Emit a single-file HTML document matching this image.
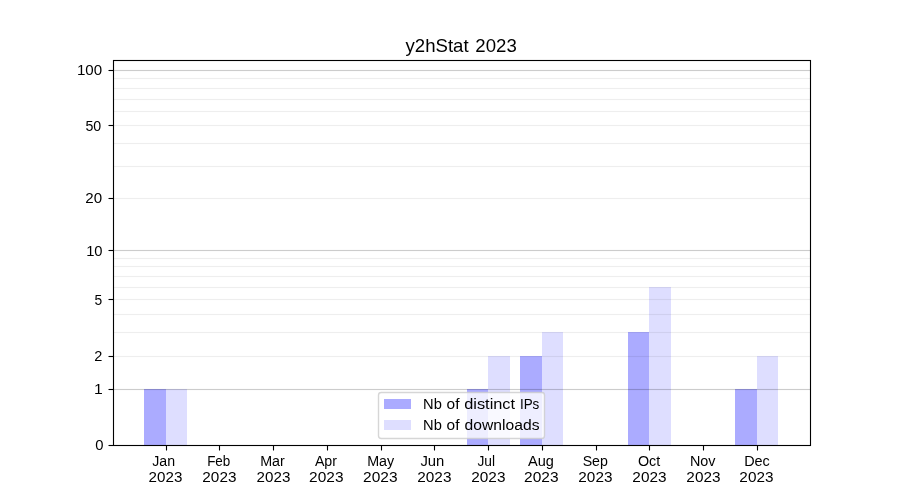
<!DOCTYPE html>
<html lang="en"><head><meta charset="utf-8"><title>y2hStat 2023</title>
<style>
html,body{margin:0;padding:0;background:#fff;}
body{width:900px;height:500px;overflow:hidden;}
svg{display:block;will-change:transform;}
text{font-family:"Liberation Sans",sans-serif;fill:#000;fill-opacity:1;}
.t10{font-size:14.7px;}
.t12{font-size:17.9px;}
.ln{stroke:#000;stroke-width:1.111;fill:none;}
.bd{fill:#0000ff;fill-opacity:0.33;shape-rendering:crispEdges;}
.bl{fill:#0000ff;fill-opacity:0.13;shape-rendering:crispEdges;}
</style></head><body>
<svg width="900" height="500" viewBox="0 0 900 500" role="img" aria-label="y2hStat 2023 bar chart">
<rect x="0" y="0" width="900" height="500" fill="#ffffff"/>
<!-- bars -->
<g class="bd">
<rect x="144" y="389" width="22" height="56"/>
<rect x="467" y="389" width="21" height="56"/>
<rect x="520" y="356" width="22" height="89"/>
<rect x="628" y="332" width="21" height="113"/>
<rect x="735" y="389" width="22" height="56"/>
</g>
<g class="bl">
<rect x="166" y="389" width="21" height="56"/>
<rect x="488" y="356" width="22" height="89"/>
<rect x="542" y="332" width="21" height="113"/>
<rect x="649" y="287" width="22" height="158"/>
<rect x="757" y="356" width="21" height="89"/>
</g>
<!-- grid -->
<g shape-rendering="crispEdges" fill="#000">
<rect x="114" y="70" width="696" height="1" fill-opacity="0.2"/>
<rect x="114" y="78" width="696" height="1" fill-opacity="0.0667"/>
<rect x="114" y="88" width="696" height="1" fill-opacity="0.0667"/>
<rect x="114" y="99" width="696" height="1" fill-opacity="0.0667"/>
<rect x="114" y="111" width="696" height="1" fill-opacity="0.0667"/>
<rect x="114" y="125" width="696" height="1" fill-opacity="0.0667"/>
<rect x="114" y="143" width="696" height="1" fill-opacity="0.0667"/>
<rect x="114" y="166" width="696" height="1" fill-opacity="0.0667"/>
<rect x="114" y="198" width="696" height="1" fill-opacity="0.0667"/>
<rect x="114" y="250" width="696" height="1" fill-opacity="0.2"/>
<rect x="114" y="258" width="696" height="1" fill-opacity="0.0667"/>
<rect x="114" y="266" width="696" height="1" fill-opacity="0.0667"/>
<rect x="114" y="276" width="696" height="1" fill-opacity="0.0667"/>
<rect x="114" y="287" width="696" height="1" fill-opacity="0.0667"/>
<rect x="114" y="299" width="696" height="1" fill-opacity="0.0667"/>
<rect x="114" y="314" width="696" height="1" fill-opacity="0.0667"/>
<rect x="114" y="332" width="696" height="1" fill-opacity="0.0667"/>
<rect x="114" y="356" width="696" height="1" fill-opacity="0.0667"/>
<rect x="114" y="389" width="696" height="1" fill-opacity="0.2"/>
<path d="M114 69h696v1h-696zM114 71h696v1h-696zM114 249h696v1h-696zM114 251h696v1h-696zM114 388h696v1h-696zM114 390h696v1h-696z" fill-opacity="0.0118"/>
<path d="M114 77h696v1h-696zM114 79h696v1h-696zM114 87h696v1h-696zM114 89h696v1h-696zM114 98h696v1h-696zM114 100h696v1h-696zM114 110h696v1h-696zM114 112h696v1h-696zM114 124h696v1h-696zM114 126h696v1h-696zM114 142h696v1h-696zM114 144h696v1h-696zM114 165h696v1h-696zM114 167h696v1h-696zM114 197h696v1h-696zM114 199h696v1h-696zM114 257h696v1h-696zM114 259h696v1h-696zM114 265h696v1h-696zM114 267h696v1h-696zM114 275h696v1h-696zM114 277h696v1h-696zM114 286h696v1h-696zM114 288h696v1h-696zM114 298h696v1h-696zM114 300h696v1h-696zM114 313h696v1h-696zM114 315h696v1h-696zM114 331h696v1h-696zM114 333h696v1h-696zM114 355h696v1h-696zM114 357h696v1h-696z" fill-opacity="0.0040"/>
</g>
<!-- ticks -->
<g class="ln">
<line x1="108.5" y1="445.5" x2="113" y2="445.5"/>
<line x1="108.5" y1="389.5" x2="113" y2="389.5"/>
<line x1="108.5" y1="356.5" x2="113" y2="356.5"/>
<line x1="108.5" y1="299.5" x2="113" y2="299.5"/>
<line x1="108.5" y1="250.5" x2="113" y2="250.5"/>
<line x1="108.5" y1="198.5" x2="113" y2="198.5"/>
<line x1="108.5" y1="125.5" x2="113" y2="125.5"/>
<line x1="108.5" y1="70.5" x2="113" y2="70.5"/>
<line x1="166.5" y1="446" x2="166.5" y2="450.5"/>
<line x1="219.5" y1="446" x2="219.5" y2="450.5"/>
<line x1="273.5" y1="446" x2="273.5" y2="450.5"/>
<line x1="327.5" y1="446" x2="327.5" y2="450.5"/>
<line x1="381.5" y1="446" x2="381.5" y2="450.5"/>
<line x1="434.5" y1="446" x2="434.5" y2="450.5"/>
<line x1="488.5" y1="446" x2="488.5" y2="450.5"/>
<line x1="542.5" y1="446" x2="542.5" y2="450.5"/>
<line x1="596.5" y1="446" x2="596.5" y2="450.5"/>
<line x1="649.5" y1="446" x2="649.5" y2="450.5"/>
<line x1="703.5" y1="446" x2="703.5" y2="450.5"/>
<line x1="757.5" y1="446" x2="757.5" y2="450.5"/>
</g>
<!-- spines -->
<rect class="ln" x="113.5" y="60.5" width="697" height="385"/>
<!-- y tick labels -->
<g class="t10">
<text x="95.19" y="450.00" textLength="8.24" lengthAdjust="spacingAndGlyphs">0</text>
<text x="93.94" y="394.00" textLength="8.74" lengthAdjust="spacingAndGlyphs">1</text>
<text x="94.19" y="361.00" textLength="8.09" lengthAdjust="spacingAndGlyphs">2</text>
<text x="94.44" y="305.00" textLength="7.69" lengthAdjust="spacingAndGlyphs">5</text>
<text x="86.16" y="256.00" textLength="16.42" lengthAdjust="spacingAndGlyphs">10</text>
<text x="85.36" y="203.00" textLength="16.82" lengthAdjust="spacingAndGlyphs">20</text>
<text x="85.46" y="131.00" textLength="15.82" lengthAdjust="spacingAndGlyphs">50</text>
<text x="76.92" y="75.00" textLength="25.21" lengthAdjust="spacingAndGlyphs">100</text>
</g>
<!-- x tick labels -->
<g class="t10">
<text x="152.25" y="466.00" textLength="22.81" lengthAdjust="spacingAndGlyphs">Jan</text>
<text x="148.63" y="482.00" textLength="33.75" lengthAdjust="spacingAndGlyphs">2023</text>
<text x="207.16" y="466.00" textLength="23.15" lengthAdjust="spacingAndGlyphs">Feb</text>
<text x="202.36" y="482.00" textLength="34.05" lengthAdjust="spacingAndGlyphs">2023</text>
<text x="260.17" y="466.00" textLength="24.60" lengthAdjust="spacingAndGlyphs">Mar</text>
<text x="256.60" y="482.00" textLength="33.75" lengthAdjust="spacingAndGlyphs">2023</text>
<text x="314.89" y="466.00" textLength="22.13" lengthAdjust="spacingAndGlyphs">Apr</text>
<text x="309.13" y="482.00" textLength="34.35" lengthAdjust="spacingAndGlyphs">2023</text>
<text x="367.19" y="466.00" textLength="27.01" lengthAdjust="spacingAndGlyphs">May</text>
<text x="363.12" y="482.00" textLength="34.45" lengthAdjust="spacingAndGlyphs">2023</text>
<text x="420.43" y="466.00" textLength="23.90" lengthAdjust="spacingAndGlyphs">Jun</text>
<text x="417.30" y="482.00" textLength="34.15" lengthAdjust="spacingAndGlyphs">2023</text>
<text x="477.48" y="466.00" textLength="17.61" lengthAdjust="spacingAndGlyphs">Jul</text>
<text x="471.29" y="482.00" textLength="34.15" lengthAdjust="spacingAndGlyphs">2023</text>
<text x="528.04" y="466.00" textLength="25.87" lengthAdjust="spacingAndGlyphs">Aug</text>
<text x="524.08" y="482.00" textLength="34.45" lengthAdjust="spacingAndGlyphs">2023</text>
<text x="582.65" y="466.00" textLength="25.23" lengthAdjust="spacingAndGlyphs">Sep</text>
<text x="578.36" y="482.00" textLength="34.05" lengthAdjust="spacingAndGlyphs">2023</text>
<text x="637.96" y="466.00" textLength="22.31" lengthAdjust="spacingAndGlyphs">Oct</text>
<text x="632.35" y="482.00" textLength="34.15" lengthAdjust="spacingAndGlyphs">2023</text>
<text x="689.90" y="466.00" textLength="25.56" lengthAdjust="spacingAndGlyphs">Nov</text>
<text x="686.38" y="482.00" textLength="34.10" lengthAdjust="spacingAndGlyphs">2023</text>
<text x="744.15" y="466.00" textLength="25.63" lengthAdjust="spacingAndGlyphs">Dec</text>
<text x="739.37" y="482.00" textLength="34.10" lengthAdjust="spacingAndGlyphs">2023</text>
</g>
<!-- title -->
<text class="t12"><tspan x="405.55" y="51.50" textLength="63.09" lengthAdjust="spacingAndGlyphs">y2hStat</tspan> <tspan x="475.39" y="51.50" textLength="41.42" lengthAdjust="spacingAndGlyphs">2023</tspan></text>
<!-- legend -->
<rect x="378.5" y="392.5" width="166" height="46" rx="2.78" ry="2.78" fill="#ffffff" fill-opacity="0.8" stroke="#cccccc" stroke-opacity="0.8" stroke-width="1.389"/>
<rect x="384" y="399" width="27" height="10" class="bd"/>
<rect x="384" y="420" width="27" height="10" class="bl"/>
<g class="t10">
<text><tspan x="423.07" y="408.60" textLength="18.76" lengthAdjust="spacingAndGlyphs">Nb</tspan> <tspan x="446.59" y="408.60" textLength="12.89" lengthAdjust="spacingAndGlyphs">of</tspan> <tspan x="464.24" y="408.60" textLength="50.85" lengthAdjust="spacingAndGlyphs">distinct</tspan> <tspan x="519.91" y="408.60" textLength="19.41" lengthAdjust="spacingAndGlyphs">IPs</tspan></text>
<text><tspan x="423.07" y="429.50" textLength="18.76" lengthAdjust="spacingAndGlyphs">Nb</tspan> <tspan x="446.59" y="429.50" textLength="12.89" lengthAdjust="spacingAndGlyphs">of</tspan> <tspan x="464.64" y="429.50" textLength="74.85" lengthAdjust="spacingAndGlyphs">downloads</tspan></text>
</g>
</svg>
</body></html>
